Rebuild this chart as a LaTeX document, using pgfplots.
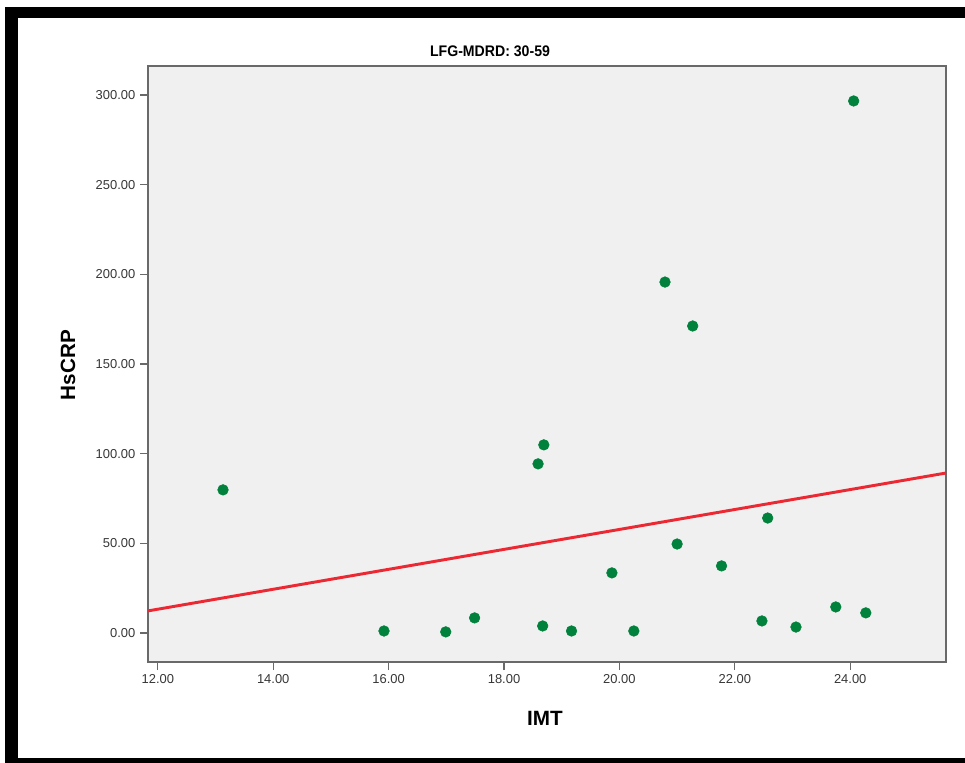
\documentclass[border=0pt]{standalone}
\usepackage{pgfplots}
\pgfplotsset{compat=1.18}
\usepackage{fontspec}
\setmainfont{Liberation Sans}
\definecolor{bg}{RGB}{240,240,240}
\definecolor{dotgreen}{RGB}{0,130,60}
\definecolor{fitred}{RGB}{236,40,50}
\definecolor{framegray}{RGB}{105,105,105}
\definecolor{ticktext}{RGB}{55,55,55}
\begin{document}
\begin{tikzpicture}
\useasboundingbox (0pt,0pt) rectangle (723.75pt,-572.25pt);
\fill[white] (0pt,0pt) rectangle (723.75pt,-572.25pt);
\begin{axis}[
  at={(111pt,-496.5pt)}, anchor=south west,
  scale only axis, width=598.5pt, height=447pt,
  xmin=11.83, xmax=25.66, ymin=-16.2, ymax=316.2,
  axis background/.style={fill=bg},
  axis line style={framegray, line width=1.3pt},
  xtick={12,14,16,18,20,22,24},
  ytick={0,50,100,150,200,250,300},
  tick align=outside, major tick length=6pt,
  xtick pos=bottom, ytick pos=left,
  tick style={framegray, line width=1pt},
  scaled ticks=false,
  /pgf/number format/assume math mode=true,
  xticklabel style={/pgf/number format/.cd, fixed, fixed zerofill, precision=2, 1000 sep={}, /tikz/.cd, font=\fontsize{9.7}{11}\selectfont, text=ticktext},
  yticklabel style={/pgf/number format/.cd, fixed, fixed zerofill, precision=2, 1000 sep={}, /tikz/.cd, font=\fontsize{9.7}{11}\selectfont, text=ticktext},
]
\addplot[fitred, line width=2.2pt] coordinates {(11.83,12.3) (25.66,89.2)};
\addplot[only marks, mark=*, mark size=4pt, draw=dotgreen, fill=dotgreen] coordinates {
(13.13,79.8)
(15.92,1.1)
(16.99,0.6)
(17.49,8.4)
(18.59,94.3)
(18.69,104.9)
(18.67,3.9)
(19.17,1.1)
(19.87,33.5)
(20.25,1.1)
(20.79,195.7)
(21.00,49.6)
(21.27,171.2)
(21.77,37.4)
(22.47,6.7)
(22.57,64.1)
(23.06,3.3)
(23.75,14.5)
(24.06,296.7)
(24.27,11.2)
};
\end{axis}
\begin{scope}[x=0.75pt,y=-0.75pt]
\fill[black] (5,7) rectangle (965,18);
\fill[black] (5,7) rectangle (18,763);
\fill[black] (5,758) rectangle (965,763);
\node[font=\bfseries\fontsize{11.5}{13}\selectfont, xscale=0.92] at (490,51) {LFG-MDRD: 30-59};
\node[font=\bfseries\fontsize{15.5}{18}\selectfont, rotate=90] at (68,365) {HsCRP};
\node[font=\bfseries\fontsize{15.5}{18}\selectfont] at (545,718) {IMT};
\end{scope}
\end{tikzpicture}
\end{document}
